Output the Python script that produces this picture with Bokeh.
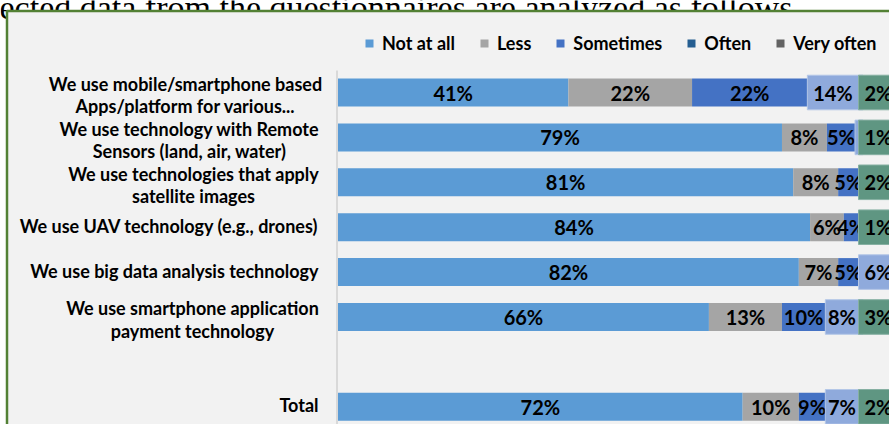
import numpy as np
import pandas as pd
from bokeh.plotting import figure
from bokeh.models import ColumnDataSource, Range1d
from bokeh.core.properties import value
from bokeh.embed import file_html
from bokeh.resources import INLINE

# ---------------- data ----------------
categories = [
    "We use mobile/smartphone based\nApps/platform for various...",
    "We use technology with Remote\nSensors (land, air, water)",
    "We use technologies that apply\nsatellite images",
    "We use UAV technology (e.g., drones)",
    "We use big data analysis technology",
    "We use smartphone application\npayment technology",
    "Total",
]
not_at_all = [41, 79, 81, 84, 82, 66, 72]
less = [22, 8, 8, 6, 7, 13, 10]
sometimes = [22, 5, 5, 4, 5, 10, 9]
often = [14, 7, 4, 5, 6, 8, 7]
very_often = [2, 1, 2, 1, 0, 3, 2]

series_names = ["Not at all", "Less", "Sometimes", "Often", "Very often"]
series_colors = ["#5b9bd5", "#a5a5a5", "#4472c4", "#255e91", "#636363"]

page_text = "ected data from the questionnaires are analyzed as follows."

# ---------------- layout ----------------
W, H = 889, 424
ZERO_PX = 337.5        # x of 0 %
PX_PER_PCT = 5.62
ROW0_PX = 92.0         # y of first row centre
ROW_PX = 44.9          # row pitch
FONT = value("Lato")

x_start = -ZERO_PX / PX_PER_PCT
x_end = (W - ZERO_PX) / PX_PER_PCT
y_end = ROW0_PX / ROW_PX
y_start = -(H - ROW0_PX) / ROW_PX


def fx(px):
    return (px - ZERO_PX) / PX_PER_PCT


def fy(py):
    return -(py - ROW0_PX) / ROW_PX


row_index = [0, 1, 2, 3, 4, 5, 7]   # blank slot before "Total"
ys = [-float(r) for r in row_index]

df = pd.DataFrame({
    "y": ys,
    "cat": categories,
    "Not at all": not_at_all,
    "Less": less,
    "Sometimes": sometimes,
    "Often": often,
    "Very often": very_often,
})

p = figure(width=W, height=H,
           x_range=Range1d(x_start, x_end), y_range=Range1d(y_start, y_end),
           output_backend="svg", toolbar_location=None,
           x_axis_location=None, y_axis_location=None,
           min_border=0, background_fill_color="white",
           border_fill_color="white", outline_line_color=None)
p.xgrid.visible = False
p.ygrid.visible = False

# document text above the chart (cut off at the top, as in the source)
p.text(x=[fx(-1)], y=[fy(6.5)], text=[page_text],
       text_font=value("Liberation Serif"), text_font_size="34px",
       text_align="left", text_baseline="alphabetic", text_color="#000000")

# chart area with green frame
p.quad(left=fx(6.5), right=x_end + 10, top=fy(10.5), bottom=y_start - 2,
       fill_color="#f2f2f2", line_color="#538135", line_width=2.5)

# vertical axis line
p.segment(x0=fx(336.5), y0=fy(70), x1=fx(336.5), y1=y_start - 1,
          line_color="#d9d9d9", line_width=2)

src = ColumnDataSource(df)
p.hbar_stack(series_names, y="y", height=0.624, color=series_colors,
             source=src, legend_label=series_names, line_color=None)

# boxed labels for Often / Very often (as in the source picture)
ANCHOR = fx(858)       # left edge of the last label box
LAST_W = 7.1
ob = {"l": [], "r": [], "y": []}
ot = {"x": [], "y": [], "t": []}
gb = {"l": [], "r": [], "y": []}
gt = {"x": [], "y": [], "t": []}
cover_left = []
for i in range(len(df)):
    start_s = not_at_all[i] + less[i]
    cum_s = start_s + sometimes[i]
    cover = 1e9
    if very_often[i] > 0:
        gb["l"].append(ANCHOR); gb["r"].append(ANCHOR + LAST_W); gb["y"].append(ys[i])
        gt["x"].append(ANCHOR + LAST_W / 2); gt["y"].append(ys[i]); gt["t"].append(f"{very_often[i]}%")
        cover = ANCHOR
        w = 9.1 if often[i] >= 10 else 5.9
        left = min(cum_s, ANCHOR - w)
        if left < start_s + 3:
            left = cum_s
        if left < ANCHOR:
            ob["l"].append(left); ob["r"].append(ANCHOR + 0.8); ob["y"].append(ys[i])
            cover = min(cover, left)
            if ANCHOR - left >= w - 0.5:
                ot["x"].append((left + ANCHOR) / 2); ot["y"].append(ys[i]); ot["t"].append(f"{often[i]}%")
    elif often[i] > 0:
        ob["l"].append(ANCHOR); ob["r"].append(ANCHOR + LAST_W); ob["y"].append(ys[i])
        ot["x"].append(ANCHOR + LAST_W / 2); ot["y"].append(ys[i]); ot["t"].append(f"{often[i]}%")
        cover = ANCHOR
    cover_left.append(cover)

# labels for first three segments (centred on the visible part)
cum = np.zeros(len(df))
lab = {"x": [], "y": [], "t": []}
for name in ["Not at all", "Less", "Sometimes"]:
    vals = df[name].to_numpy(dtype=float)
    for i, v in enumerate(vals):
        if v > 0:
            left = cum[i]
            right = min(cum[i] + v, max(cover_left[i], left + 2))
            lab["x"].append((left + right) / 2)
            lab["y"].append(ys[i])
            lab["t"].append(f"{int(v)}%")
    cum += vals
LABEL_SIZE = "20px"
p.text(x="x", y="y", text="t", source=ColumnDataSource(lab),
       text_font=FONT, text_font_style="bold", text_font_size=LABEL_SIZE,
       text_align="center", text_baseline="middle", text_color="#000000")

p.hbar(y="y", left="l", right="r", height=0.77, source=ColumnDataSource(ob),
       fill_color="#8faadc", line_color="#b4c7e7", line_width=1)
p.text(x="x", y="y", text="t", source=ColumnDataSource(ot),
       text_font=FONT, text_font_style="bold", text_font_size=LABEL_SIZE,
       text_align="center", text_baseline="middle", text_color="#000000")
p.hbar(y="y", left="l", right="r", height=0.77, source=ColumnDataSource(gb),
       fill_color="#5f9682", line_color="#86b0a2", line_width=1)
p.text(x="x", y="y", text="t", source=ColumnDataSource(gt),
       text_font=FONT, text_font_style="bold", text_font_size=LABEL_SIZE,
       text_align="center", text_baseline="middle", text_color="#000000")

# category labels
LABEL_RIGHT = fx(318)
label_center_px = {0: 185, 1: 189, 2: 193, 5: 192}
multi = {"x": [], "y": [], "t": []}
single = {"x": [], "y": [], "t": []}
for i, c in enumerate(categories):
    if "\n" in c:
        multi["x"].append(fx(label_center_px[i])); multi["y"].append(ys[i] - 0.06); multi["t"].append(c)
    else:
        single["x"].append(LABEL_RIGHT); single["y"].append(ys[i] + 0.03); single["t"].append(c)
CAT_SIZE = "18px"
p.text(x="x", y="y", text="t", source=ColumnDataSource(multi),
       text_font=FONT, text_font_style="bold", text_font_size=CAT_SIZE,
       text_align="center", text_baseline="middle", text_color="#000000",
       text_line_height=1.02)
p.text(x="x", y="y", text="t", source=ColumnDataSource(single),
       text_font=FONT, text_font_style="bold", text_font_size=CAT_SIZE,
       text_align="right", text_baseline="middle", text_color="#000000")

# legend
leg = p.legend[0]
leg.orientation = "horizontal"
leg.location = (364, 370)
leg.padding = 0
leg.margin = 0
leg.spacing = 24
leg.label_standoff = 8
leg.glyph_width = 10
leg.glyph_height = 10
leg.label_height = 18
leg.label_text_font = "Lato"
leg.label_text_font_style = "bold"
leg.label_text_font_size = "18px"
leg.label_text_color = "#000000"
leg.border_line_color = None
leg.background_fill_alpha = 0

open("out.html", "w").write(file_html(p, INLINE))
